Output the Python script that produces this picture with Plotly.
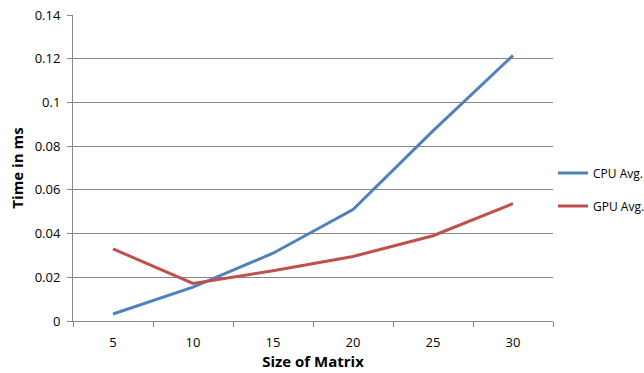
import plotly.graph_objects as go

sizes = ["5", "10", "15", "20", "25", "30"]
cpu_avg = [0.0032, 0.0155, 0.031, 0.051, 0.087, 0.1215]
gpu_avg = [0.033, 0.0172, 0.023, 0.0295, 0.039, 0.0537]
y_ticks = [0, 0.02, 0.04, 0.06, 0.08, 0.1, 0.12, 0.14]
y_tick_text = ["0", "0.02", "0.04", "0.06", "0.08", "0.1", "0.12", "0.14"]

font_family = "Open Sans, Arial, sans-serif"

fig = go.Figure()
fig.add_trace(go.Scatter(x=sizes, y=cpu_avg, mode="lines", name="CPU Avg.",
                         legendgroup="cpu",
                         line=dict(color="#4F81BD", width=3)))
fig.add_trace(go.Scatter(x=sizes, y=gpu_avg, mode="lines", name="GPU Avg.",
                         legendgroup="gpu",
                         line=dict(color="#C0504D", width=3)))

fig.update_layout(
    width=644, height=373,
    margin=dict(l=73, r=91, t=15, b=52, autoexpand=False),
    paper_bgcolor="white", plot_bgcolor="white",
    font=dict(family=font_family, size=13, color="#000000"),
    legend=dict(x=1.0, y=0.43, xanchor="left", yanchor="middle",
                font=dict(size=12), itemwidth=30, traceorder="grouped",
                tracegroupgap=14, bgcolor="rgba(0,0,0,0)"),
    xaxis=dict(
        type="category", range=[-0.5, len(sizes) - 0.5], automargin=False,
        tickson="boundaries", ticks="outside", ticklen=5, ticklabelstandoff=9,
        tickcolor="#868686", showline=True, linecolor="#868686", linewidth=1,
        showgrid=False, tickfont=dict(size=13),
        title=dict(text="<b>Size of Matrix</b>", font=dict(size=15), standoff=6),
    ),
    yaxis=dict(
        range=[0, 0.14], tickvals=y_ticks, ticktext=y_tick_text, automargin=False,
        ticks="outside", ticklen=5, ticklabelstandoff=4, tickcolor="#868686",
        showline=True, linecolor="#868686", linewidth=1,
        showgrid=True, gridcolor="#868686", gridwidth=1, zeroline=False,
        tickfont=dict(size=13),
        title=dict(text="<b>Time in ms</b>", font=dict(size=15), standoff=7),
    ),
)

fig.write_html("out.html", config={"displayModeBar": False},
               post_script="document.body.style.margin='0px';")
